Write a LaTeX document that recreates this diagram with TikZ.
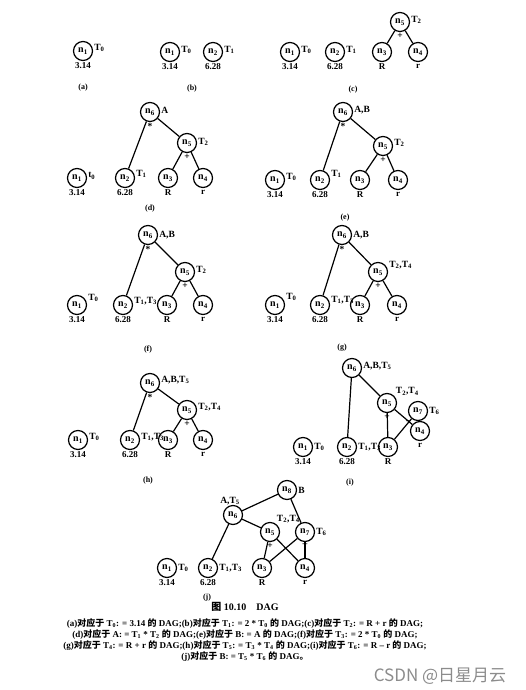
\documentclass[tikz,border=0pt]{standalone}
\usepackage{fontspec}
\setmainfont{Liberation Serif}
\newfontfamily\cjk{Noto Sans CJK SC}
\usetikzlibrary{positioning}
\newcommand{\nsub}[1]{n\textsubscript{#1}}
\newcommand{\Tsub}[1]{T\textsubscript{#1}}
\newcommand{\zh}[1]{{\cjk #1}}
\tikzstyle{vtx} = [circle, draw=black, line width=1.2pt, minimum size=19pt, inner sep=0pt, font=\bfseries\fontsize{10}{10}\selectfont]
\tikzstyle{tag} = [font=\bfseries\fontsize{9.5}{10}\selectfont, inner sep=1pt]
\tikzstyle{val} = [font=\bfseries\fontsize{9}{10}\selectfont, inner sep=1.5pt]
\tikzstyle{op} = [font=\bfseries\fontsize{9.5}{9}\selectfont, inner sep=1.2pt]
\tikzstyle{panel} = [font=\bfseries\fontsize{8}{8}\selectfont]
\tikzstyle{edge} = [line width=1.2pt]
\tikzstyle{captxt} = [font=\bfseries\fontsize{9}{11}\selectfont, align=center]

\begin{document}
\begin{tikzpicture}[x=1pt,y=-1pt]
\path[fill=white] (0,0) rectangle (525,690);

% (a)
\node (a1) [vtx, label={[tag,yshift=3pt]0:\Tsub{0}}, label={[val]below:3.14}] at (83,51) {\nsub{1}};
\node (la) [panel] at (83,88) {(a)};

% (b)
\node (b1) [vtx, label={[tag,yshift=2pt]0:\Tsub{0}}, label={[val]below:3.14}] at (170,52) {\nsub{1}};
\node (b2) [vtx, label={[tag,yshift=2pt]0:\Tsub{1}}, label={[val]below:6.28}] at (213,52) {\nsub{2}};
\node (lb) [panel] at (192,89) {(b)};

% (c)
\node (c1) [vtx, label={[tag,yshift=2pt]0:\Tsub{0}}, label={[val]below:3.14}] at (290,52) {\nsub{1}};
\node (c2) [vtx, label={[tag,yshift=2pt]0:\Tsub{1}}, label={[val]below:6.28}] at (335,52) {\nsub{2}};
\node (c3) [vtx, label={[val]below:R}] at (382,52) {\nsub{3}};
\node (c4) [vtx, label={[val]below:r}] at (418,52) {\nsub{4}};
\node (c5) [vtx, label={[tag,yshift=2pt]0:\Tsub{2}}, label={[op]below:+}] at (400,22) {\nsub{5}};
\node (lc) [panel] at (353,90) {(c)};
\draw [edge] (c5) -- (c3);
\draw [edge] (c5) -- (c4);

% (d)
\node (d6) [vtx, label={[tag,yshift=2pt]0:A}, label={[op]below:*}] at (150,112) {\nsub{6}};
\node (d5) [vtx, label={[tag,yshift=1pt]0:\Tsub{2}}, label={[op]below:+}] at (187,143) {\nsub{5}};
\node (d1) [vtx, label={[tag,yshift=2pt]0:t\textsubscript{0}}, label={[val]below:3.14}] at (77,178) {\nsub{1}};
\node (d2) [vtx, label={[tag,yshift=4pt]0:\Tsub{1}}, label={[val]below:6.28}] at (125,178) {\nsub{2}};
\node (d3) [vtx, label={[val]below:R}] at (168,178) {\nsub{3}};
\node (d4) [vtx, label={[val]below:r}] at (203,178) {\nsub{4}};
\node (ld) [panel] at (150,209) {(d)};
\draw [edge] (d6) -- (d2);
\draw [edge] (d6) -- (d5);
\draw [edge] (d5) -- (d3);
\draw [edge] (d5) -- (d4);

% (e)
\node (e6) [vtx, label={[tag,yshift=2pt]0:{A,B}}, label={[op]below:*}] at (343,112) {\nsub{6}};
\node (e5) [vtx, label={[tag,yshift=3pt]0:\Tsub{2}}, label={[op]below:+}] at (383,146) {\nsub{5}};
\node (e1) [vtx, label={[tag,yshift=3pt]0:\Tsub{0}}, label={[val]below:3.14}] at (275,180) {\nsub{1}};
\node (e2) [vtx, label={[tag,yshift=6pt]0:\Tsub{1}}, label={[val]below:6.28}] at (320,180) {\nsub{2}};
\node (e3) [vtx, label={[val]below:R}] at (360,180) {\nsub{3}};
\node (e4) [vtx, label={[val]below:r}] at (398,180) {\nsub{4}};
\node (le) [panel] at (345,218) {(e)};
\draw [edge] (e6) -- (e2);
\draw [edge] (e6) -- (e5);
\draw [edge] (e5) -- (e3);
\draw [edge] (e5) -- (e4);

% (f)
\node (f6) [vtx, label={[tag]0:{A,B}}, label={[op]below:*}] at (148,235) {\nsub{6}};
\node (f5) [vtx, label={[tag,yshift=2pt]0:\Tsub{2}}, label={[op]below:+}] at (185,272) {\nsub{5}};
\node (f1) [vtx, label={[tag,yshift=7pt]0:\Tsub{0}}, label={[val]below:3.14}] at (77,305) {\nsub{1}};
\node (f2) [vtx, label={[tag,yshift=4pt]0:{\Tsub{1},\Tsub{3}}}, label={[val]below:6.28}] at (123,305) {\nsub{2}};
\node (f3) [vtx, label={[val]below:R}] at (167,305) {\nsub{3}};
\node (f4) [vtx, label={[val]below:r}] at (203,305) {\nsub{4}};
\node (lf) [panel] at (148,350) {(f)};
\draw [edge] (f6) -- (f2);
\draw [edge] (f6) -- (f5);
\draw [edge] (f5) -- (f3);
\draw [edge] (f5) -- (f4);

% (g)
\node (g6) [vtx, label={[tag]0:{A,B}}, label={[op]below:*}] at (342,235) {\nsub{6}};
\node (g5) [vtx, label={[tag,yshift=7pt]0:{\Tsub{2},\Tsub{4}}}, label={[op]below:+}] at (378,272) {\nsub{5}};
\node (g1) [vtx, label={[tag,yshift=8pt]0:\Tsub{0}}, label={[val]below:3.14}] at (275,305) {\nsub{1}};
\node (g2) [vtx, label={[tag,yshift=5pt]0:{\Tsub{1},\Tsub{3}}}, label={[val]below:6.28}] at (320,305) {\nsub{2}};
\node (g3) [vtx, label={[val]below:R}] at (360,305) {\nsub{3}};
\node (g4) [vtx, label={[val]below:r}] at (397,305) {\nsub{4}};
\node (lg) [panel] at (342,348) {(g)};
\draw [edge] (g6) -- (g2);
\draw [edge] (g6) -- (g5);
\draw [edge] (g5) -- (g3);
\draw [edge] (g5) -- (g4);

% (h)
\node (h6) [vtx, label={[tag,yshift=3pt]0:{A,B,\Tsub{5}}}, label={[op]below:*}] at (150,383) {\nsub{6}};
\node (h5) [vtx, label={[tag,yshift=3pt]0:{\Tsub{2},\Tsub{4}}}, label={[op]below:+}] at (187,410) {\nsub{5}};
\node (h1) [vtx, label={[tag,yshift=3pt]0:\Tsub{0}}, label={[val]below:3.14}] at (78,440) {\nsub{1}};
\node (h2) [vtx, label={[tag,yshift=3pt]0:{\Tsub{1},\Tsub{3}}}, label={[val]below:6.28}] at (130,440) {\nsub{2}};
\node (h3) [vtx, label={[val]below:R}] at (168,440) {\nsub{3}};
\node (h4) [vtx, label={[val]below:r}] at (203,440) {\nsub{4}};
\node (lh) [panel] at (148,481) {(h)};
\draw [edge] (h6) -- (h2);
\draw [edge] (h6) -- (h5);
\draw [edge] (h5) -- (h3);
\draw [edge] (h5) -- (h4);

% (i)
\node (i6) [vtx, label={[tag,yshift=2pt]0:{A,B,\Tsub{5}}}] at (352,368) {\nsub{6}};
\node (i5) [vtx, label={[tag]40:{\Tsub{2},\Tsub{4}}}, label={[op]below:+}] at (387,403) {\nsub{5}};
\node (i7) [vtx, label={[tag]0:\Tsub{6}}, label={[op]235:--}] at (418,411) {\nsub{7}};
\node (i4) [vtx, label={[val]below:r}] at (420,431) {\nsub{4}};
\node (i1) [vtx, label={[tag]0:\Tsub{0}}, label={[val]below:3.14}] at (303,447) {\nsub{1}};
\node (i2) [vtx, label={[tag]0:{\Tsub{1},\Tsub{3}}}, label={[val]below:6.28}] at (347,447) {\nsub{2}};
\node (i3) [vtx, label={[val]below:R}] at (388,447) {\nsub{3}};
\node (li) [panel] at (350,483) {(i)};
\draw [edge] (i6) -- (i2);
\draw [edge] (i6) -- (i5);
\draw [edge] (i5) -- (i3);
\draw [edge] (i5) -- (i4);
\draw [edge] (i7) -- (i3);
\draw [edge] (i7) -- (i4);

% (j)
\node (j8) [vtx, label={[tag]0:B}] at (287,490) {\nsub{8}};
\node (j6) [vtx, label={[tag,xshift=-3pt,yshift=-1pt]above:{A,\Tsub{5}}}] at (233,515) {\nsub{6}};
\node (j5) [vtx, label={[tag]55:{\Tsub{2},\Tsub{4}}}, label={[op]below:+}] at (270,532) {\nsub{5}};
\node (j7) [vtx, label={[tag]0:\Tsub{6}}, label={[op]below:--}] at (305,532) {\nsub{7}};
\node (j1) [vtx, label={[tag]0:\Tsub{0}}, label={[val]below:3.14}] at (167,568) {\nsub{1}};
\node (j2) [vtx, label={[tag]0:{\Tsub{1},\Tsub{3}}}, label={[val]below:6.28}] at (208,568) {\nsub{2}};
\node (j3) [vtx, label={[val]below:R}] at (262,568) {\nsub{3}};
\node (j4) [vtx, label={[val]below:r}] at (305,568) {\nsub{4}};
\node (lj) [panel] at (207,598) {(j)};
\draw [edge] (j8) -- (j6);
\draw [edge] (j8) -- (j7);
\draw [edge] (j6) -- (j2);
\draw [edge] (j6) -- (j5);
\draw [edge] (j5) -- (j3);
\draw [edge] (j5) -- (j4);
\draw [edge] (j7) -- (j3);
\draw [edge] (j7) -- (j4);

% caption
\node (title) [captxt, font=\bfseries\fontsize{10}{11}\selectfont] at (245,607) {\zh{图} 10.10\quad DAG};
\node (cap) [captxt, below=0pt of title] {%
(a)\zh{对应于} \Tsub{0}: = 3.14 \zh{的} DAG;(b)\zh{对应于} \Tsub{1}: = 2 * \Tsub{0} \zh{的} DAG;(c)\zh{对应于} \Tsub{2}: = R + r \zh{的} DAG;\\
(d)\zh{对应于} A: = \Tsub{1} * \Tsub{2} \zh{的} DAG;(e)\zh{对应于} B: = A \zh{的} DAG;(f)\zh{对应于} \Tsub{3}: = 2 * \Tsub{0} \zh{的} DAG;\\
(g)\zh{对应于} \Tsub{4}: = R + r \zh{的} DAG;(h)\zh{对应于} \Tsub{5}: = \Tsub{3} * \Tsub{4} \zh{的} DAG;(i)\zh{对应于} \Tsub{6}: = R -- r \zh{的} DAG;\\
(j)\zh{对应于} B: = \Tsub{5} * \Tsub{6} \zh{的} DAG\zh{。}};
\node (mark) [font=\cjk\fontsize{17}{17}\selectfont, text=black!45] at (440,676) {CSDN @日星月云};
\end{tikzpicture}
\end{document}
